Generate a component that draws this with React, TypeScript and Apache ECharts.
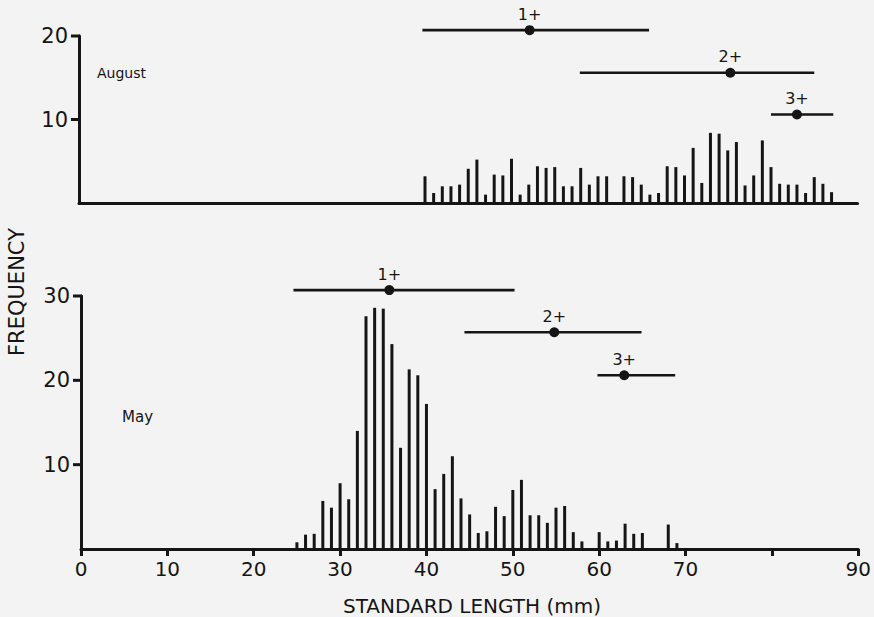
import React, { useEffect, useRef } from "react";
import * as echarts from "echarts";

// August sample: standard length (mm) and frequency
const augustLengths = [40, 41, 42, 43, 44, 45, 46, 47, 48, 49, 50, 51, 52, 53, 54, 55, 56, 57, 58, 59, 60, 61, 63, 64, 65, 66, 67, 68, 69, 70, 71, 72, 73, 74, 75, 76, 77, 78, 79, 80, 81, 82, 83, 84, 85, 86, 87];
const augustFreq = [3.2, 1.2, 2.0, 2.0, 2.2, 4.1, 5.2, 1.0, 3.4, 3.3, 5.3, 1.0, 2.2, 4.4, 4.2, 4.3, 2.0, 2.0, 4.2, 2.2, 3.2, 3.2, 3.2, 3.1, 2.2, 1.0, 1.2, 4.4, 4.3, 3.3, 6.6, 2.4, 8.4, 8.3, 6.3, 7.3, 2.1, 3.3, 7.5, 4.3, 2.3, 2.2, 2.2, 1.2, 3.1, 2.3, 1.3];

// May sample
const mayLengths = [25, 26, 27, 28, 29, 30, 31, 32, 33, 34, 35, 36, 37, 38, 39, 40, 41, 42, 43, 44, 45, 46, 47, 48, 49, 50, 51, 52, 53, 54, 55, 56, 57, 58, 60, 61, 62, 63, 64, 65, 68, 69];
const mayFreq = [0.8, 1.7, 1.8, 5.7, 4.9, 7.8, 5.9, 14.0, 27.6, 28.6, 28.5, 24.3, 12.0, 21.3, 20.6, 17.2, 7.1, 8.9, 11.0, 6.0, 4.1, 1.9, 2.1, 5.0, 3.9, 7.0, 8.2, 4.0, 4.0, 3.1, 4.9, 5.1, 2.0, 0.9, 2.0, 0.9, 1.0, 3.0, 1.8, 1.9, 2.9, 0.7];

// Age-class ranges: low, mean, high, plotted height
const ageLabels = ["1+", "2+", "3+"];
const augustAgeLow = [39.7, 57.9, 80.0];
const augustAgeMean = [52.1, 75.3, 83.0];
const augustAgeHigh = [65.9, 85.0, 87.2];
const augustAgeY = [20.7, 15.6, 10.6];
const mayAgeLow = [24.6, 44.4, 59.8];
const mayAgeMean = [35.7, 54.8, 62.9];
const mayAgeHigh = [50.2, 64.9, 68.8];
const mayAgeY = [30.7, 25.7, 20.6];

const xTicks = [0, 10, 20, 30, 40, 50, 60, 70, 90];
const augustYTicks = [10, 20];
const mayYTicks = [10, 20, 30];

const INK = "#151515";
const FONT = "DejaVu Sans";

function ageSeries(gridIdx: number, low: number[], mean: number[], high: number[], ys: number[]) {
  return {
    type: "custom",
    xAxisIndex: gridIdx,
    yAxisIndex: gridIdx,
    clip: false,
    silent: true,
    data: low.map((l, i) => [l, mean[i], high[i], ys[i]]),
    encode: { x: [0, 1, 2], y: 3 },
    renderItem: (params: any, api: any) => {
      const y = api.value(3);
      const lo = api.coord([api.value(0), y]);
      const m = api.coord([api.value(1), y]);
      const hi = api.coord([api.value(2), y]);
      return {
        type: "group",
        children: [
          {
            type: "line",
            shape: { x1: lo[0], y1: lo[1], x2: hi[0], y2: hi[1] },
            style: { stroke: INK, lineWidth: 2.6 },
          },
          {
            type: "circle",
            shape: { cx: m[0], cy: m[1], r: 5 },
            style: { fill: INK },
          },
          {
            type: "text",
            style: {
              text: ageLabels[params.dataIndex],
              x: m[0],
              y: m[1] - 16,
              align: "center",
              verticalAlign: "middle",
              fontSize: 16,
              fontFamily: FONT,
              fill: INK,
            },
          },
        ],
      };
    },
  };
}

// short outward tick marks on the y axis, placed through the axis scale
function yTickSeries(gridIdx: number, ticks: number[]) {
  return {
    type: "custom",
    xAxisIndex: gridIdx,
    yAxisIndex: gridIdx,
    clip: false,
    silent: true,
    data: ticks.map((t) => [0, t]),
    encode: { x: 0, y: 1 },
    renderItem: (params: any, api: any) => {
      const p = api.coord([api.value(0), api.value(1)]);
      return {
        type: "rect",
        shape: { x: p[0] - 8, y: p[1] - 1.5, width: 9, height: 3 },
        style: { fill: INK },
      };
    },
  };
}

export default function App() {
  const ref = useRef<HTMLDivElement>(null);
  useEffect(() => {
    if (!ref.current) return;
    const chart = echarts.init(ref.current, null, { renderer: "svg" });
    const axisLine = { show: true, lineStyle: { color: INK, width: 3 } };
    chart.setOption({
      animation: false,
      backgroundColor: "#f3f3f3",
      grid: [
        { left: 79, top: 36, width: 778.5, height: 167 },
        { left: 81, top: 296, width: 778.5, height: 253 },
      ],
      xAxis: [
        {
          type: "value",
          gridIndex: 0,
          min: 0,
          max: 90,
          interval: 10,
          axisLine,
          axisTick: { show: false },
          axisLabel: { show: false },
          splitLine: { show: false },
        },
        {
          type: "value",
          gridIndex: 1,
          min: 0,
          max: 90,
          interval: 10,
          axisLine,
          axisTick: { show: true, length: 7, lineStyle: { color: INK, width: 3 } },
          axisLabel: {
            show: true,
            customValues: xTicks,
            fontSize: 20,
            fontFamily: FONT,
            color: INK,
            margin: 10,
          },
          splitLine: { show: false },
        },
      ],
      yAxis: [
        {
          type: "value",
          gridIndex: 0,
          min: 0,
          max: 20,
          interval: 10,
          axisLine,
          axisTick: { show: false },
          axisLabel: { showMinLabel: false, fontSize: 21, fontFamily: FONT, color: INK, margin: 11 },
          splitLine: { show: false },
        },
        {
          type: "value",
          gridIndex: 1,
          min: 0,
          max: 30,
          interval: 10,
          axisLine,
          axisTick: { show: false },
          axisLabel: { showMinLabel: false, fontSize: 21, fontFamily: FONT, color: INK, margin: 11 },
          splitLine: { show: false },
        },
      ],
      series: [
        {
          type: "bar",
          xAxisIndex: 0,
          yAxisIndex: 0,
          barWidth: 3,
          itemStyle: { color: INK },
          data: augustLengths.map((l, i) => [l, augustFreq[i]]),
        },
        {
          type: "bar",
          xAxisIndex: 1,
          yAxisIndex: 1,
          barWidth: 3,
          itemStyle: { color: INK },
          data: mayLengths.map((l, i) => [l, mayFreq[i]]),
        },
        ageSeries(0, augustAgeLow, augustAgeMean, augustAgeHigh, augustAgeY),
        ageSeries(1, mayAgeLow, mayAgeMean, mayAgeHigh, mayAgeY),
        yTickSeries(0, augustYTicks),
        yTickSeries(1, mayYTicks),
      ],
      graphic: [
        {
          type: "text",
          left: 97,
          top: 66,
          style: { text: "August", fontSize: 14, fontFamily: FONT, fill: INK },
        },
        {
          type: "text",
          left: 122,
          top: 409,
          style: { text: "May", fontSize: 15, fontFamily: FONT, fill: INK },
        },
        {
          type: "text",
          x: 17,
          y: 292,
          rotation: Math.PI / 2,
          style: {
            text: "FREQUENCY",
            fontSize: 21,
            fontFamily: FONT,
            fill: INK,
            align: "center",
            verticalAlign: "middle",
          },
        },
        {
          type: "text",
          x: 472,
          y: 606,
          style: {
            text: "STANDARD LENGTH (mm)",
            fontSize: 20,
            fontFamily: FONT,
            fill: INK,
            align: "center",
            verticalAlign: "middle",
          },
        },
      ],
    });
    return () => chart.dispose();
  }, []);
  return (
    <div
      ref={ref}
      style={{ position: "fixed", left: 0, top: 0, width: 874, height: 617 }}
    />
  );
}
